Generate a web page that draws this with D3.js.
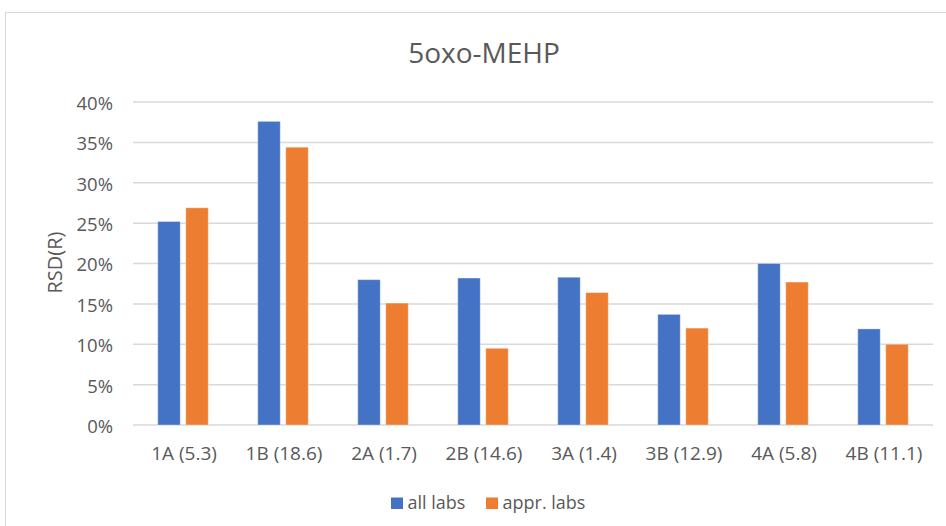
<!DOCTYPE html>
<html><head><meta charset="utf-8">
<script src="https://cdn.jsdelivr.net/npm/d3@7"></script>
<style>body{margin:0;background:#fff}svg{display:block}text{font-family:"Open Sans",Lato,sans-serif;fill:#595959}</style>
</head><body>
<svg id="c" width="946" height="526"></svg>
<script>
const categories = ["1A (5.3)","1B (18.6)","2A (1.7)","2B (14.6)","3A (1.4)","3B (12.9)","4A (5.8)","4B (11.1)"];
const seriesNames = ["all labs","appr. labs"];
const allLabs = [0.252,0.376,0.180,0.182,0.183,0.137,0.200,0.119];
const apprLabs = [0.269,0.344,0.151,0.095,0.164,0.120,0.177,0.100];
const yTicks = [0,0.05,0.10,0.15,0.20,0.25,0.30,0.35,0.40];
const colors = ["#4472C4","#ED7D31"];
const FONT = "'Open Sans',Lato,sans-serif";

const svg = d3.select("#c");
svg.append("rect").attr("x",5.5).attr("y",12.5).attr("width",960).attr("height",530)
  .attr("fill","#fff").attr("stroke","#d9d9d9").attr("stroke-width",1);

const m = {l:133,r:933,t:102,b:425};
const x = d3.scaleBand().domain(categories).range([m.l,m.r]).paddingInner(0).paddingOuter(0);
const y = d3.scaleLinear().domain([0,0.40]).range([m.b,m.t]);

// gridlines
svg.append("g").selectAll("line").data(yTicks).join("line")
  .attr("x1",m.l).attr("x2",m.r).attr("y1",d=>y(d)).attr("y2",d=>y(d))
  .attr("stroke","#d9d9d9").attr("stroke-width",1.5);

// y axis labels
const yAxis = d3.axisLeft(y).tickValues(yTicks).tickFormat(d3.format(".0%")).tickSize(0).tickPadding(0);
const ya = svg.append("g").attr("transform",`translate(113,1.5)`).call(yAxis);
ya.select(".domain").remove();
ya.selectAll("text").style("font-size","18.5px").attr("fill","#595959").style("font-family",FONT);

// x axis labels
const xAxis = d3.axisBottom(x).tickSize(0).tickPadding(0);
const xa = svg.append("g").attr("transform",`translate(1,446.5)`).call(xAxis);
xa.select(".domain").remove();
xa.selectAll("text").style("font-size","19px").attr("fill","#595959").style("font-family",FONT);

// bars
const barW = 22.5, gap = 5.5;
const series = [allLabs, apprLabs];
series.forEach((vals,si)=>{
  svg.append("g").selectAll("rect").data(vals).join("rect")
    .attr("x",(d,i)=>x(categories[i]) + x.bandwidth()/2 - (barW*2+gap)/2 + si*(barW+gap))
    .attr("y",d=>y(d))
    .attr("width",barW)
    .attr("height",d=>y(0)-y(d))
    .attr("fill",colors[si])
    .attr("stroke","rgba(255,255,255,0.35)").attr("stroke-width",1);
});

// title
svg.append("text").attr("x",484).attr("y",63).attr("text-anchor","middle")
  .style("font-size","28px").text("5oxo-MEHP");

// y axis title
svg.append("text").attr("transform","translate(62,262.5) rotate(-90)").attr("text-anchor","middle")
  .style("font-size","20px").text("RSD(R)");

// legend
const lg = svg.append("g");
const legItems = [{x:391},{x:486}];
seriesNames.forEach((n,i)=>{
  lg.append("rect").attr("x",legItems[i].x).attr("y",497.5).attr("width",12).attr("height",11.5).attr("fill",colors[i]);
  lg.append("text").attr("x",legItems[i].x+16.5).attr("y",509).style("font-size","18px").text(n);
});
</script>
</body></html>
